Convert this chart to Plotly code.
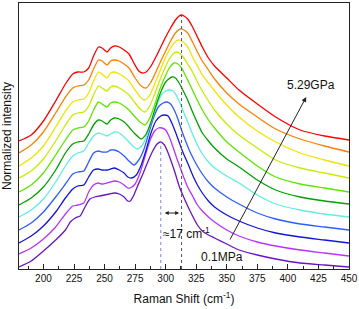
import plotly.graph_objects as go

# Raman spectra (offset-stacked, normalized intensity, a.u.) from 0.1 MPa (bottom) to 5.29 GPa (top)
shift_01 = [180,190,200,210,218,222,226,230,234,238,242,246,250,254,258,262,266,269,271,274,277,281,285,289,293,296,299,302,305,308,311,314,318,322,326,330,335,340,350,360,375,390,410,430,450]
inten_01 = [2,8,18,29,39,47,51,53,62,70,72,73,74,75,76,75,72,68,68,74,83,94,106,117,125,127,124,116,106,95,83,74,63,53,44,38,34,31,25,19,14,10,6,4,2]

shift_02 = [180,190,200,210,218,224,228,233,237,241,245,248,252,255,258,262,266,269,271,275,279,283,287,291,294,297,300,303,306,309,312,315,318,322,326,330,335,340,350,360,375,390,410,430,450]
inten_02 = [15,21,30,42,55,63,64,66,77,84,86,85,86,87,88,87,84,81,81,85,96,112,128,138,141,141,139,132,122,111,101,91,82,73,64,58,52,47,39,33,27,23,19,16,13]

shift_03 = [180,190,200,210,218,224,228,233,237,241,245,248,252,255,258,262,266,269,272,276,280,284,288,292,296,299,302,305,308,311,314,318,322,326,330,335,340,350,360,375,390,410,430,450]
inten_03 = [26,33,43,57,71,80,83,84,92,99,100,99,99,100,101,99,96,92,91,94,104,119,136,148,153,154,153,146,137,127,117,106,94,84,76,68,62,54,48,41,36,32,29,26]

shift_04 = [180,190,200,210,218,224,228,233,237,241,245,248,252,255,258,262,266,270,274,278,282,286,290,294,298,301,304,307,310,313,316,320,325,330,335,340,350,360,375,390,410,430,450]
inten_04 = [39,46,57,72,85,95,97,98,107,116,118,117,117,119,119,117,113,108,104,109,119,135,151,162,166,167,165,159,150,139,129,117,105,95,87,81,72,65,56,50,45,42,39]

shift_05 = [180,190,200,210,218,224,228,233,237,241,245,248,252,255,258,262,266,270,274,277,281,285,289,293,297,300,303,306,309,312,315,318,322,326,330,335,340,350,360,375,390,410,430,450]
inten_05 = [52,59,70,87,103,113,116,118,126,133,136,135,133,135,137,136,132,127,122,120,124,135,150,165,175,178,179,178,173,165,156,147,135,124,115,107,101,93,86,74,65,59,55,52]

shift_06 = [180,190,200,210,218,224,228,233,237,241,245,248,252,255,258,262,266,270,275,280,284,288,292,296,300,305,308,311,314,318,322,326,330,335,340,350,360,375,390,410,430,450]
inten_06 = [64,71,82,99,116,125,127,128,135,144,149,148,145,149,151,150,147,142,135,130,135,147,163,177,187,192,191,186,179,169,157,146,136,128,121,110,102,89,79,72,68,65]

shift_07 = [180,190,200,210,218,224,228,233,237,241,245,248,252,255,258,262,266,270,275,280,283,287,291,295,299,303,307,310,313,316,320,325,330,335,340,350,360,375,390,410,430,450]
inten_07 = [77,84,96,114,129,139,141,142,148,159,167,165,162,166,167,166,163,159,152,146,144,151,164,179,191,201,206,205,201,194,184,171,159,149,141,127,117,103,92,85,81,77]

shift_08 = [180,190,200,210,218,224,228,233,237,241,245,248,252,255,258,262,266,270,275,280,283,287,291,295,299,303,306,309,312,315,318,322,326,330,335,340,350,360,375,390,410,430,450]
inten_08 = [91,98,110,128,144,154,156,157,163,174,183,181,178,182,183,181,178,174,166,159,157,163,175,188,200,210,215,217,215,211,205,197,187,178,168,159,145,134,121,109,101,96,91]

shift_09 = [180,190,200,210,218,224,228,233,237,241,245,248,252,255,258,262,266,270,275,280,283,287,291,295,299,303,307,310,313,316,319,322,326,330,335,340,350,360,375,390,410,430,450]
inten_09 = [103,111,123,142,158,167,169,170,176,188,197,195,191,196,197,195,192,188,179,171,169,174,185,197,209,219,226,229,228,225,220,212,203,194,186,178,164,152,138,127,116,109,103]

shift_10 = [180,190,200,210,218,224,228,233,237,241,245,248,252,255,258,262,266,270,275,280,284,288,292,296,300,304,308,312,315,318,322,326,330,335,340,350,360,375,390,410,430,450]
inten_10 = [116,124,137,156,172,181,183,184,189,200,209,208,204,208,209,208,205,201,191,183,181,187,197,208,218,228,236,240,239,236,227,217,208,199,190,176,165,152,140,130,123,117]

shift_11 = [180,190,200,210,218,224,228,233,237,241,245,248,252,255,258,262,266,270,274,278,281,284,288,292,296,300,304,308,311,313,315,318,322,326,330,335,340,350,360,375,390,410,430,450]
inten_11 = [128,134,148,168,185,195,197,197,201,213,222,221,217,221,223,222,219,215,206,198,196,197,203,212,222,232,241,249,253,254,253,250,242,232,222,211,203,191,179,165,152,139,133,129]

colors = ["#6a14c8", "#b833ff", "#1414dd", "#2f5cff", "#5feee0", "#00a000",
          "#5ee600", "#c4ee00", "#f0e400", "#ff8000", "#ff0000"]

series = [(shift_01, inten_01), (shift_02, inten_02), (shift_03, inten_03), (shift_04, inten_04),
          (shift_05, inten_05), (shift_06, inten_06), (shift_07, inten_07), (shift_08, inten_08),
          (shift_09, inten_09), (shift_10, inten_10), (shift_11, inten_11)]

# reference peak positions
peak_low, peak_high = 296, 313

fig = go.Figure()
for (xs, ys), c in zip(series, colors):
    assert len(xs) == len(ys)
    fig.add_trace(go.Scatter(x=xs, y=ys, mode="lines", line=dict(color=c, width=1.3, shape="spline", smoothing=0.6),
                             showlegend=False, hoverinfo="skip"))

fig.add_shape(type="line", x0=peak_low, x1=peak_low, y0=0, y1=max(inten_01), line=dict(color="#8080d0", width=1, dash="dot"))
fig.add_shape(type="line", x0=peak_high, x1=peak_high, y0=0, y1=max(inten_11), line=dict(color="#555555", width=1, dash="dot"))

font = "Liberation Sans, Arial, sans-serif"
fig.add_annotation(x=415, y=172, ax=352, ay=28, xref="x", yref="y", axref="x", ayref="y",
                   showarrow=True, arrowhead=2, arrowsize=1, arrowwidth=1, arrowcolor="#222222", text="")
fig.add_annotation(x=311, y=56, ax=298, ay=56, xref="x", yref="y", axref="x", ayref="y",
                   showarrow=True, arrowhead=2, arrowside="end+start", arrowsize=0.8, arrowwidth=1,
                   arrowcolor="#222222", text="")
fig.add_annotation(x=418.7, y=184, text="5.29GPa", showarrow=False, font=dict(family=font, size=12, color="#111"))
fig.add_annotation(x=346, y=12, text="0.1MPa", showarrow=False, font=dict(family=font, size=12, color="#111"))
fig.add_annotation(x=317, y=36, text="≈17 cm<sup>-1</sup>", showarrow=False, font=dict(family=font, size=12, color="#111"))

fig.update_layout(
    width=359, height=309, margin=dict(l=19, r=10, t=3, b=40),
    paper_bgcolor="white", plot_bgcolor="white",
    font=dict(family=font, size=10, color="#111"),
)
fig.update_xaxes(range=[180, 450], tickvals=list(range(200, 451, 25)), ticks="inside", ticklen=5,
                 tickcolor="#222", showline=True, linecolor="#222", linewidth=1, mirror=True,
                 showgrid=False, zeroline=False, automargin=False, ticklabeloverflow="allow",
                 minor=dict(dtick=12.5, tick0=0, ticks="inside", ticklen=3, tickcolor="#222"),
                 tickfont=dict(size=10),
                 title=dict(text="Raman Shift (cm<sup>-1</sup>)", font=dict(size=12), standoff=11))
fig.update_yaxes(range=[0, 266], showticklabels=False, ticks="", showline=True, linecolor="#222",
                 linewidth=1, mirror=True, showgrid=False, zeroline=False, automargin=False,
                 title=dict(text="Normalized intensity", font=dict(size=12), standoff=3))

fig.write_html("out.html", config={"displayModeBar": False},
               post_script="document.body.style.margin='0';document.body.style.padding='0';")
